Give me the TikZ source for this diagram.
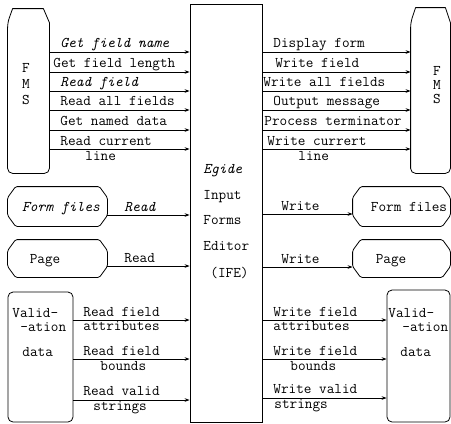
\documentclass[tikz,border=0pt]{standalone}
\usepackage{fontspec}
\usetikzlibrary{arrows.meta}
\newcommand\lbfont{\ttfamily\fontsize{14.8bp}{16bp}\selectfont}
\begin{document}
\begin{tikzpicture}[x=1bp,y=-1bp,line width=0.8bp,
  lbl/.style={font=\lbfont,inner sep=0pt,anchor=base west},
  lbli/.style={font=\lbfont\itshape,inner sep=0pt,anchor=base west},
  ctr/.style={font=\lbfont,inner sep=0pt,anchor=base},
  arr/.style={-{Stealth[length=5bp,width=3.6bp]}},
  area/.style={draw=none,inner sep=0pt},
  outl/.style={draw,line join=round}]
\useasboundingbox (0,0) rectangle (451,423);

% central box
\node[draw,inner sep=0pt,minimum width=72bp,minimum height=418bp] (ife) at (226,213) {};
\node[lbli] (t1) at (203,173.5) {Egide};
\node[lbl] (t2) at (203,199) {Input};
\node[lbl] (t3) at (203,224.5) {Forms};
\node[lbl] (t4) at (203,250.5) {Editor};
\node[lbl] (t5) at (210,277) {(IFE)};

% FMS boxes
\node[area,minimum width=41bp,minimum height=164bp] (fmsL) at (28.5,91) {};
\draw[outl] ([xshift=5bp]fmsL.north west) -- ([xshift=-6bp]fmsL.north east) -- ([yshift=-14bp]fmsL.north east)
  [rounded corners=5bp] -- (fmsL.south east) -- (fmsL.south west) -- ([yshift=-14bp]fmsL.north west) [sharp corners] -- cycle;
\node[ctr] (fL1) at (26,72) {F};
\node[ctr] (fL2) at (26,88) {M};
\node[ctr] (fL3) at (26,104) {S};

\node[area,minimum width=39bp,minimum height=165bp] (fmsR) at (430.5,90.5) {};
\draw[outl] ([xshift=5bp]fmsR.north west) -- ([xshift=-5bp]fmsR.north east) -- ([yshift=-15bp]fmsR.north east)
  [rounded corners=5bp] -- (fmsR.south east) -- (fmsR.south west) -- ([yshift=-15bp]fmsR.north west) [sharp corners] -- cycle;
\node[ctr] (fR1) at (437,75) {F};
\node[ctr] (fR2) at (437,89) {M};
\node[ctr] (fR3) at (437,103) {S};

% FMS arrows
\foreach \i/\y in {1/52,2/72,3/91,4/110,5/130,6/149}{
  \coordinate (ya\i) at (0,\y);
  \draw[arr] (fmsL.east |- ya\i) -- (ife.west |- ya\i);
  \draw[arr] (ife.east |- ya\i) -- (fmsR.west |- ya\i);
}
\node[lbli] (a1) at (60,47) {Get field name};
\node[lbl] (a2) at (53,67) {Get field length};
\node[lbli] (a3) at (60,86) {Read field};
\node[lbl] (a4) at (60,105) {Read all fields};
\node[lbl] (a5) at (60,125) {Get named data};
\node[lbl] (a6) at (60,145) {Read current};
\node[lbl] (a7) at (85,160) {line};

\node[lbl] (b1) at (273,47) {Display form};
\node[lbl] (b2) at (275,67) {Write field};
\node[lbl] (b3) at (263,86) {Write all fields};
\node[lbl] (b4) at (273,105) {Output message};
\node[lbl] (b5) at (264,125) {Process terminator};
\node[lbl] (b6) at (267,145) {Write currert};
\node[lbl] (b7) at (298,160) {line};

% Form files & Page boxes
\newcommand\chamf[1]{\draw[outl,rounded corners=1.5bp] ([xshift=8bp]#1.north west) -- ([xshift=-8bp]#1.north east) -- ([yshift=-11bp]#1.north east) -- ([yshift=11bp]#1.south east) -- ([xshift=-8bp]#1.south east) -- ([xshift=8bp]#1.south west) -- ([yshift=11bp]#1.south west) -- ([yshift=-11bp]#1.north west) -- cycle;}
\node[area,minimum width=99bp,minimum height=39bp] (ffL) at (57.5,206.5) {};
\chamf{ffL}
\node[font=\lbfont\itshape,inner sep=0pt,anchor=base] (ffLt) at (61,211) {Form files};
\node[area,minimum width=99bp,minimum height=37bp] (pgL) at (57.5,258.5) {};
\chamf{pgL}
\node[ctr] (pgLt) at (45,263) {Page};

\node[area,minimum width=97bp,minimum height=39bp] (ffR) at (401.5,206.5) {};
\chamf{ffR}
\node[ctr] (ffRt) at (409,211) {Form files};
\node[area,minimum width=97bp,minimum height=37bp] (pgR) at (401.5,258.5) {};
\chamf{pgR}
\node[ctr] (pgRt) at (391,263) {Page};

\coordinate (yf1) at (0,215);
\coordinate (yf2) at (0,266);
\coordinate (yf3) at (0,214);
\coordinate (yf4) at (0,267);
\draw[arr] (ffL.east |- yf1) -- (ife.west |- yf1);
\draw[arr] (pgL.east |- yf2) -- (ife.west |- yf2);
\draw[arr] (ife.east |- yf3) -- (ffR.west |- yf3);
\draw[arr] (ife.east |- yf4) -- (pgR.west |- yf4);
\node[lbli] (c1) at (124,211) {Read};
\node[lbl] (c2) at (124,262) {Read};
\node[lbl] (c3) at (281,210) {Write};
\node[lbl] (c4) at (281,263) {Write};

% Validation boxes
\node[draw,rounded corners=5bp,inner sep=0pt,minimum width=65bp,minimum height=130bp] (vL) at (40.5,357) {};
\node[lbl] (vL1) at (12,317) {Valid-};
\node[lbl] (vL2) at (20,331) {-ation};
\node[lbl] (vL3) at (22,356) {data};
\node[draw,rounded corners=5bp,inner sep=0pt,minimum width=63bp,minimum height=132bp] (vR) at (418.5,356) {};
\node[lbl] (vR1) at (388,317) {Valid-};
\node[lbl] (vR2) at (402,331) {-ation};
\node[lbl] (vR3) at (400,356) {data};

\foreach \i/\yl/\yr in {1/320/320,2/359/359,3/400/398}{
  \coordinate (yl\i) at (0,\yl);
  \coordinate (yr\i) at (0,\yr);
  \draw[arr] (vL.east |- yl\i) -- (ife.west |- yl\i);
  \draw[arr] (ife.east |- yr\i) -- (vR.west |- yr\i);
}
\node[lbl] (d1) at (83,316.5) {Read field};
\node[lbl] (d2) at (83,330.5) {attributes};
\node[lbl] (d3) at (83,355.5) {Read field};
\node[lbl] (d4) at (100,370) {bounds};
\node[lbl] (d5) at (83,395) {Read valid};
\node[lbl] (d6) at (93,410.5) {strings};

\node[lbl] (e1) at (273,316.5) {Write field};
\node[lbl] (e2) at (273,330.5) {attributes};
\node[lbl] (e3) at (273,355.5) {Write field};
\node[lbl] (e4) at (290,370) {bounds};
\node[lbl] (e5) at (273,393) {Write valid};
\node[lbl] (e6) at (274,408.5) {strings};
\end{tikzpicture}
\end{document}
